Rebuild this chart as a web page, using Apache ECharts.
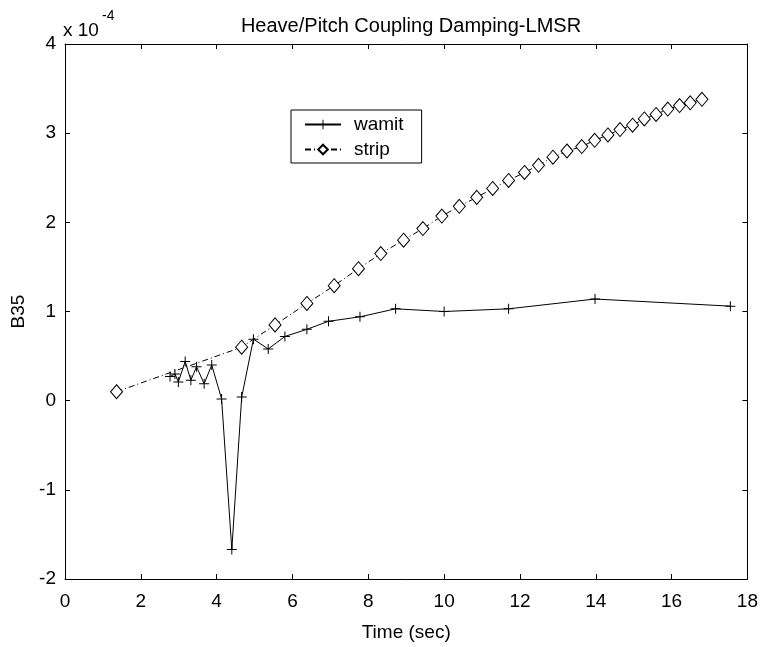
<!DOCTYPE html>
<html lang="en" style="height: 100%">
<head>
  <meta charset="utf-8">
</head>
<body style="height: 100%; margin: 0; background: #fff">
<div id="container" style="width: 761px; height: 647px"></div>

<script type="text/javascript" src="https://cdn.jsdelivr.net/npm/echarts@6/dist/echarts.min.js"></script>
<script type="text/javascript">
  // periods (sec) and B35 values (units of 1e-4)
  var wamitT = [2.77, 2.90, 2.99, 3.17, 3.32, 3.47, 3.67, 3.87, 4.13, 4.40, 4.66, 4.97, 5.36, 5.80, 6.38, 6.95, 7.78, 8.72, 10.0, 11.70, 13.98, 17.55];
  var wamitB = [0.27, 0.30, 0.21, 0.44, 0.23, 0.38, 0.19, 0.40, 0.02, -1.67, 0.04, 0.69, 0.58, 0.72, 0.80, 0.89, 0.94, 1.03, 1.00, 1.03, 1.14, 1.06];

  var stripT = [1.36, 4.66, 5.54, 6.38, 7.10, 7.74, 8.33, 8.93, 9.44, 9.94, 10.40, 10.86, 11.28, 11.70, 12.12, 12.49, 12.87, 13.24, 13.63, 13.97, 14.32, 14.64, 14.97, 15.28, 15.59, 15.90, 16.21, 16.49, 16.80];
  var stripB = [0.10, 0.60, 0.85, 1.09, 1.29, 1.48, 1.65, 1.80, 1.93, 2.07, 2.18, 2.28, 2.38, 2.47, 2.56, 2.64, 2.73, 2.80, 2.85, 2.92, 2.98, 3.04, 3.09, 3.16, 3.21, 3.27, 3.31, 3.34, 3.38];

  var xTicks = { min: 0, max: 18, interval: 2 };
  var yTicks = { min: -2, max: 4, interval: 1 };

  function pairs(xs, ys) {
    return xs.map(function (x, i) { return [x, ys[i]]; });
  }

  var font = 'Liberation Sans, Arial, sans-serif';
  var plus = 'path://M4.5,0H5.5V4.5H10V5.5H5.5V10H4.5V5.5H0V4.5H4.5Z';

  var dom = document.getElementById('container');
  var myChart = echarts.init(dom, null, { renderer: 'canvas' });

  function axisBase(pos, labels, t) {
    return {
      type: 'value',
      position: pos,
      min: t.min,
      max: t.max,
      interval: t.interval,
      axisLine: { show: true, onZero: false, lineStyle: { color: '#000', width: 1 } },
      axisTick: { show: true, inside: true, length: 5, lineStyle: { color: '#000' } },
      splitLine: { show: false },
      axisLabel: { show: labels, color: '#000', fontFamily: font, fontSize: 19 }
    };
  }

  var xMain = axisBase('bottom', true, xTicks);
  xMain.axisLabel.margin = 13;
  xMain.name = 'Time (sec)';
  xMain.nameLocation = 'middle';
  xMain.nameGap = 44;
  xMain.nameTextStyle = { color: '#000', fontFamily: font, fontSize: 19 };

  var yMain = axisBase('left', true, yTicks);
  yMain.axisLabel.margin = 9;
  yMain.name = 'B35';
  yMain.nameLocation = 'middle';
  yMain.nameGap = 32;
  yMain.nameTextStyle = { color: '#000', fontFamily: font, fontSize: 19 };

  var option = {
    animation: false,
    backgroundColor: '#fff',
    title: {
      text: 'Heave/Pitch Coupling Damping-LMSR',
      left: 406,
      textAlign: 'center',
      top: 11,
      textStyle: { color: '#000', fontFamily: font, fontSize: 20, fontWeight: 'normal' }
    },
    graphic: [
      { type: 'text', left: 63, top: 21, style: { text: 'x 10', fill: '#000', font: '19px ' + font } },
      { type: 'text', left: 102, top: 9, style: { text: '-4', fill: '#000', font: '14px ' + font } }
    ],
    grid: { left: 65, right: 13, top: 44, bottom: 61 },
    xAxis: [xMain, axisBase('top', false, xTicks)],
    yAxis: [yMain, axisBase('right', false, yTicks)],
    legend: {
      orient: 'vertical',
      left: 291,
      top: 110,
      padding: [5, 18, 4, 13],
      itemWidth: 36,
      itemHeight: 12,
      itemGap: 6,
      backgroundColor: '#fff',
      borderColor: '#000',
      borderWidth: 1,
      borderRadius: 0,
      textStyle: { color: '#000', fontFamily: font, fontSize: 19, padding: [0, 0, 0, 8] },
      data: ['wamit', 'strip']
    },
    series: [
      {
        name: 'wamit',
        type: 'line',
        data: pairs(wamitT, wamitB),
        symbol: plus,
        symbolSize: 10,
        itemStyle: { color: '#000' },
        lineStyle: { color: '#000', width: 1 },
        emphasis: { disabled: true },
        z: 3
      },
      {
        name: 'strip',
        type: 'line',
        data: pairs(stripT, stripB),
        symbol: 'diamond',
        symbolSize: [12, 14],
        itemStyle: { color: '#fff', borderColor: '#000', borderWidth: 1 },
        lineStyle: { color: '#000', width: 1, type: [6, 3, 1, 3] },
        emphasis: { disabled: true },
        z: 2
      }
    ]
  };

  myChart.setOption(option);
  window.addEventListener('resize', myChart.resize);
</script>
</body>
</html>
